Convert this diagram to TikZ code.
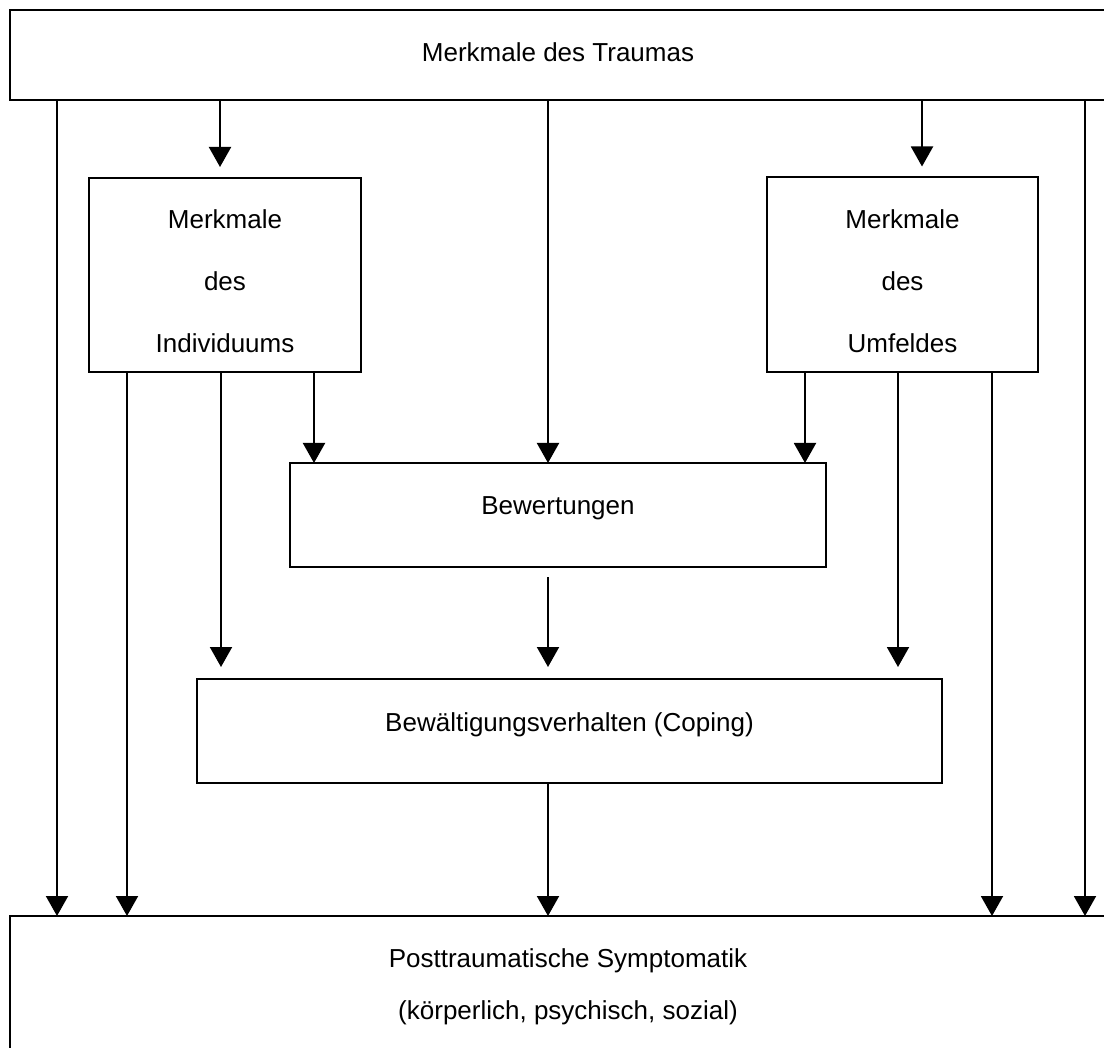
\documentclass[tikz,border=0pt]{standalone}
\usepackage{fontspec}
\setmainfont{Liberation Sans}
\usetikzlibrary{arrows.meta}
\begin{document}
\begin{tikzpicture}[x=1pt,y=-1pt,
  box/.style={draw, line width=2pt, inner sep=0pt, outer sep=0pt, anchor=north west},
  lbl/.style={anchor=base, font=\fontsize{26}{31}\selectfont, inner sep=0pt},
  arr/.style={line width=2pt, -{Triangle[width=22pt,length=20pt]}}]
\useasboundingbox (0,0) rectangle (1104,1048);
\clip (0,0) rectangle (1104,1048);
\fill[white] (0,0) rectangle (1104,1048);
% boxes
\node[box, minimum width=1096pt, minimum height=90pt] (top) at (10,10) {};
\node[box, minimum width=272pt, minimum height=194pt] (ind) at (89,178) {};
\node[box, minimum width=271pt, minimum height=195pt] (umf) at (767,177.5) {};
\node[box, minimum width=536pt, minimum height=104pt] (bew) at (290,463) {};
\node[box, minimum width=745pt, minimum height=104pt] (cop) at (197,679) {};
\node[box, minimum width=1130pt, minimum height=200pt] (bot) at (10,916) {};
% labels
\node[lbl] (ttop) at (558,62) {Merkmale des Traumas};
\node[lbl] (tind1) at (225,229) {Merkmale};
\node[lbl] (tind2) at (225,291) {des};
\node[lbl] (tind3) at (225,353) {Individuums};
\node[lbl] (tumf1) at (902.5,229) {Merkmale};
\node[lbl] (tumf2) at (902.5,291) {des};
\node[lbl] (tumf3) at (902.5,353) {Umfeldes};
\node[lbl] (tbew) at (558,515) {Bewertungen};
\node[lbl] (tcop) at (569.5,731) {Bewältigungsverhalten (Coping)};
\node[lbl] (tbot1) at (568,967) {Posttraumatische Symptomatik};
\node[lbl] (tbot2) at (568,1019) {(körperlich, psychisch, sozial)};
% columns
\coordinate (c57) at (57,0);
\coordinate (c127) at (127,0);
\coordinate (c220) at (220,0);
\coordinate (c221) at (221,0);
\coordinate (c314) at (314,0);
\coordinate (c548) at (548,0);
\coordinate (c805) at (805,0);
\coordinate (c898) at (898,0);
\coordinate (c922) at (922,0);
\coordinate (c992) at (992,0);
\coordinate (c1085) at (1085,0);
% connectors
\draw[arr] (top.south -| c57) -- (bot.north -| c57);
\draw[arr, shorten >=11pt] (top.south -| c220) -- (ind.north -| c220);
\draw[arr] (top.south -| c548) -- (bew.north -| c548);
\draw[arr, shorten >=11pt] (top.south -| c922) -- (umf.north -| c922);
\draw[arr] (top.south -| c1085) -- (bot.north -| c1085);
\draw[arr] (ind.south -| c127) -- (bot.north -| c127);
\draw[arr, shorten >=12pt] (ind.south -| c221) -- (cop.north -| c221);
\draw[arr] (ind.south -| c314) -- (bew.north -| c314);
\draw[arr] (umf.south -| c805) -- (bew.north -| c805);
\draw[arr, shorten >=12pt] (umf.south -| c898) -- (cop.north -| c898);
\draw[arr] (umf.south -| c992) -- (bot.north -| c992);
\draw[arr, shorten <=10pt, shorten >=12pt] (bew.south -| c548) -- (cop.north -| c548);
\draw[arr] (cop.south -| c548) -- (bot.north -| c548);
\end{tikzpicture}
\end{document}
